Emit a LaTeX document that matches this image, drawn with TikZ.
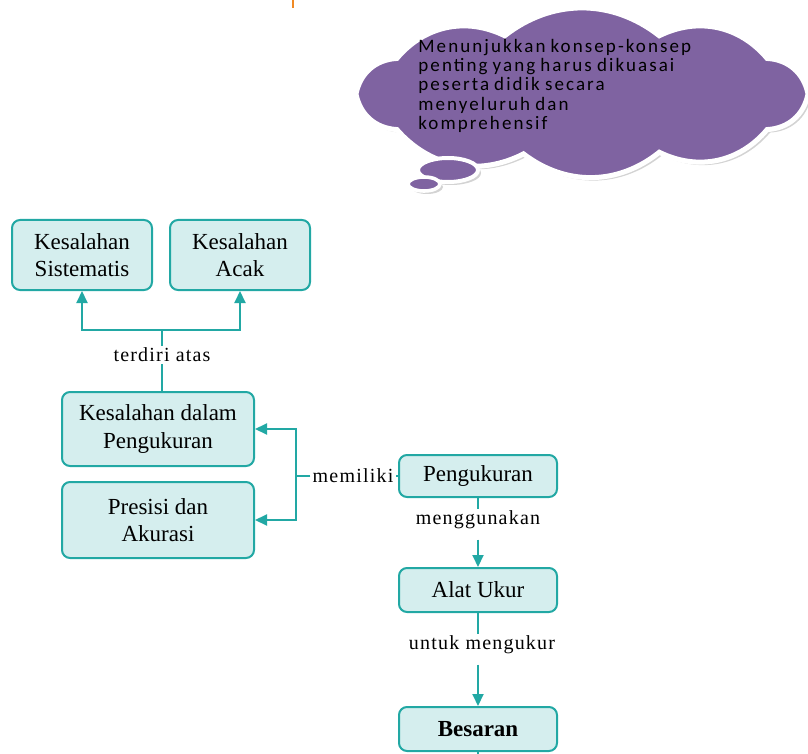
\documentclass[tikz,border=0pt]{standalone}
\usepackage{fontspec}
\setmainfont{Liberation Serif}
\newfontfamily\cloudfont[LetterSpace=11,WordSpace=0.8]{Carlito}
\newfontfamily\katafont[LetterSpace=6]{Liberation Serif}
\usetikzlibrary{arrows.meta}
\usetikzlibrary{shadows}

\definecolor{tealline}{HTML}{22A8A4}
\definecolor{boxfill}{HTML}{D5EEEE}
\definecolor{cloudfill}{HTML}{7F63A1}
\definecolor{tickorange}{HTML}{F08A24}

\tikzset{
  konsep/.style={rectangle, rounded corners=4pt, draw=tealline, line width=1pt,
    fill=boxfill, align=center, font=\fontsize{11.5}{13.5}\selectfont, inner sep=2pt},
  kata/.style={font=\katafont\fontsize{10}{11}\selectfont, inner sep=1pt},
  panah/.style={draw=tealline, line width=1pt, -{Triangle[length=6pt,width=5.5pt]}},
  garis/.style={draw=tealline, line width=1pt},
  gelembung/.style={fill=cloudfill, draw=white, line width=2.5pt,
    drop shadow={opacity=0.35, shadow xshift=1.5pt, shadow yshift=-1.5pt}}
}

\begin{document}
\begin{tikzpicture}[x=0.5pt,y=-0.5pt]
    \useasboundingbox (0,0) rectangle (808,754);

    % tanda kecil di atas
    \draw[tickorange, line width=1pt] (293,0) -- (293,8);

    % awan pikiran
    \foreach \a [count=\i from 0] in {0,35,70,105,145,180,215,250,290,325,360}
        \coordinate (p\i) at ({582+226*cos(\a)},{94+62*sin(\a)});
    \path[gelembung] (p0) \foreach \i in {1,...,10} { to[bend left=38] (p\i) } -- cycle;
    \path[gelembung, line width=2pt] (448,170) ellipse (30 and 12);
    \path[gelembung, line width=1.8pt] (424,184) ellipse (16 and 7);
    \node[anchor=north west, align=left, text=black,
          font=\cloudfont\fontsize{9.5}{9.6}\selectfont, inner sep=0pt]
          (isi) at (418,39) {Menunjukkan konsep-konsep\\penting yang harus dikuasai\\peserta didik secara\\menyeluruh dan\\komprehensif};

    % kotak konsep
    \node[konsep, minimum width=70pt, minimum height=35pt] (sistematis) at (82,255) {Kesalahan\\Sistematis};
    \node[konsep, minimum width=70pt, minimum height=35pt] (acak) at (240,255) {Kesalahan\\Acak};
    \node[konsep, minimum width=96pt, minimum height=37pt] (kdp) at (158,429) {Kesalahan dalam\\Pengukuran};
    \node[konsep, minimum width=96pt, minimum height=38pt] (presisi) at (158,520) {Presisi dan\\Akurasi};
    \node[konsep, minimum width=79pt, minimum height=21pt] (pengukuran) at (478,476) {Pengukuran};
    \node[konsep, minimum width=79pt, minimum height=22pt] (alat) at (478,590) {Alat Ukur};
    \node[konsep, minimum width=79pt, minimum height=22pt, font=\fontsize{11.5}{13.5}\selectfont\bfseries] (besaran) at (478,729) {Besaran};

    % kata penghubung
    \node[kata] (terdiri) at (162,355) {terdiri atas};
    \node[kata] (memiliki) at (353,476) {memiliki};
    \node[kata] (menggunakan) at (478,520) {menggunakan};
    \node[kata] (untuk) at (482,645) {untuk mengukur};

    \coordinate (cabang) at (162,330);
    \coordinate (garpu) at (296,476);

    % penghubung
    \draw[garis] (terdiri.south) -- (terdiri.south |- kdp.north);
    \draw[garis] (terdiri.north) -- (cabang);
    \draw[panah] (cabang) -| (sistematis);
    \draw[panah] (cabang) -| (acak);

    \draw[garis] (pengukuran) -- (memiliki);
    \draw[garis] (memiliki) -- (garpu);
    \draw[panah] (garpu) |- (kdp);
    \draw[panah] (garpu) |- (presisi);

    \draw[garis] (pengukuran) -- (menggunakan);
    \draw[panah] (menggunakan.south) ++(0,8) -- (alat);
    \draw[garis] (alat) -- (alat |- untuk.north);
    \draw[panah] (alat |- untuk.south) ++(0,8) -- (besaran);
    \draw[garis] (besaran.south) -- ++(0,6);
\end{tikzpicture}
\end{document}
